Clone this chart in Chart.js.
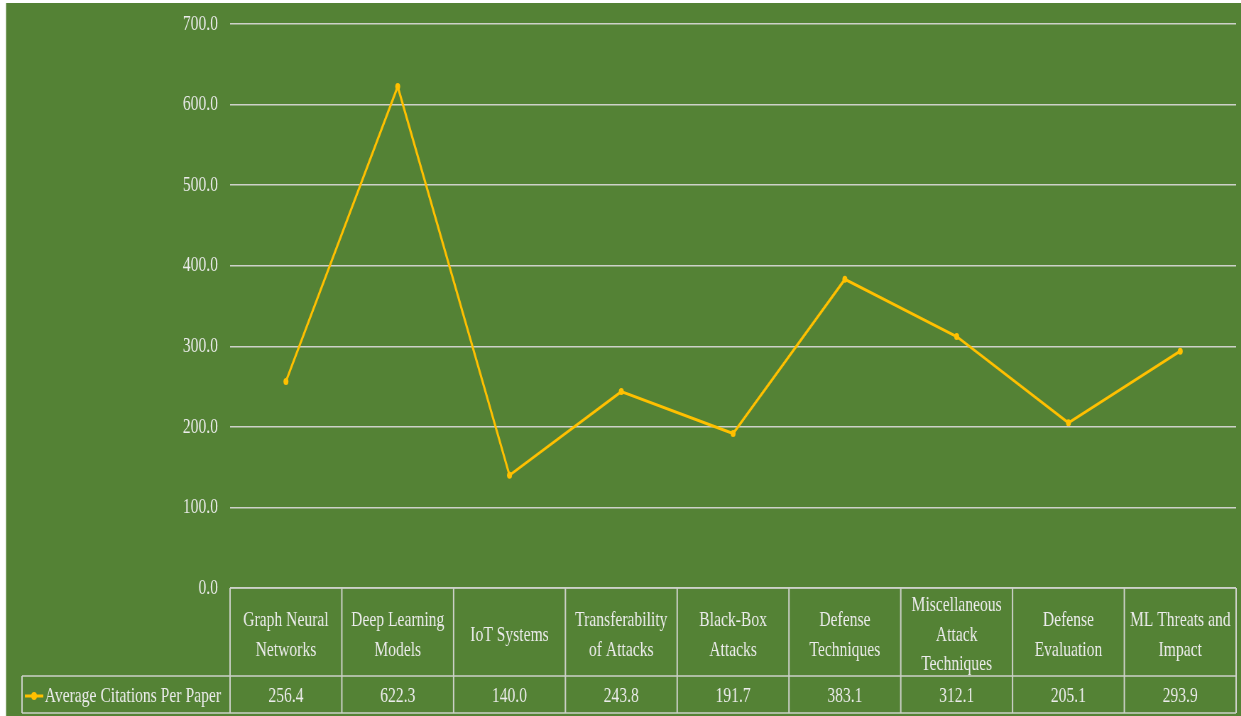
<!DOCTYPE html>
<html>
<head>
<meta charset="utf-8">
<script src="https://cdn.jsdelivr.net/npm/chart.js@4.4.1/dist/chart.umd.min.js"></script>
<style>
  html, body { margin: 0; padding: 0; background: #ffffff; overflow: hidden; }
  /* the original text is horizontally squeezed, so the whole chart is drawn wide and scaled down */
  #wrap { width: 1748px; height: 716px; transform: scaleX(0.71); transform-origin: 0 0; }
  .probe { font-family: 'Liberation Serif'; position: absolute; left: -999px; }
</style>
</head>
<body>
<span class="probe">Aa</span>
<div id="wrap"><canvas id="chart" width="1748" height="716"></canvas></div>
<script>
const categories = [
  ['Graph Neural', 'Networks'],
  ['Deep Learning', 'Models'],
  ['IoT Systems'],
  ['Transferability', 'of Attacks'],
  ['Black-Box', 'Attacks'],
  ['Defense', 'Techniques'],
  ['Miscellaneous', 'Attack', 'Techniques'],
  ['Defense', 'Evaluation'],
  ['ML Threats and', 'Impact']
]
const seriesName = 'Average Citations Per Paper'
const citations = [256.4, 622.3, 140.0, 243.8, 191.7, 383.1, 312.1, 205.1, 293.9]
const yTicks = [0, 100, 200, 300, 400, 500, 600, 700]

const GREEN = '#548235'
const YELLOW = '#FFC000'
const GRID = '#cdd1c9'
const TEXT = '#ececec'
const FONT = "'Liberation Serif', 'Times New Roman', Times, serif"

function line (ctx, x1, y1, x2, y2) {
  ctx.beginPath()
  ctx.moveTo(x1, y1)
  ctx.lineTo(x2, y2)
  ctx.stroke()
}

const background = {
  id: 'background',
  beforeDraw (chart) {
    const { ctx, width, height } = chart
    ctx.save()
    ctx.fillStyle = GREEN
    ctx.fillRect(8.5, 3, width, height)
    ctx.restore()
  }
}

// data table under the plot, like the Excel one
const dataTable = {
  id: 'dataTable',
  afterDraw (chart) {
    const { ctx, chartArea, scales: { x } } = chart
    const n = categories.length
    const colW = (x.right - x.left) / n
    const top = chartArea.bottom
    const headBottom = top + 88
    const rowBottom = headBottom + 37
    const legendLeft = 31
    const rowMid = headBottom + 20

    ctx.save()
    ctx.strokeStyle = GRID
    ctx.lineWidth = 1.5
    line(ctx, x.left, top, x.right, top)
    line(ctx, legendLeft, headBottom, x.right, headBottom)
    line(ctx, legendLeft, rowBottom, x.right, rowBottom)
    ctx.lineWidth = 2
    for (let k = 0; k <= n; k++) {
      const px = x.left + k * colW
      line(ctx, px, top, px, rowBottom)
    }
    line(ctx, legendLeft, headBottom, legendLeft, rowBottom)

    ctx.fillStyle = TEXT
    ctx.font = '22px ' + FONT
    ctx.textAlign = 'center'
    ctx.textBaseline = 'middle'
    categories.forEach((lines, i) => {
      const cx = x.getPixelForValue(i)
      lines.forEach((t, j) => {
        ctx.fillText(t, cx, top + 47 + (j - (lines.length - 1) / 2) * 29.5)
      })
      ctx.fillText(citations[i].toFixed(1), cx, rowMid)
    })

    // legend key
    ctx.strokeStyle = YELLOW
    ctx.fillStyle = YELLOW
    ctx.lineWidth = 3
    line(ctx, 35, rowMid, 61, rowMid)
    ctx.beginPath()
    ctx.arc(48, rowMid, 4, 0, Math.PI * 2)
    ctx.fill()

    ctx.fillStyle = TEXT
    ctx.textAlign = 'left'
    ctx.fillText(seriesName, 63, rowMid)
    ctx.restore()
  }
}

function draw () {
  new Chart(document.getElementById('chart'), {
    type: 'line',
    data: {
      labels: categories,
      datasets: [{
        label: seriesName,
        data: citations,
        borderColor: YELLOW,
        backgroundColor: YELLOW,
        borderWidth: 3,
        pointRadius: 3.5,
        pointBorderWidth: 0,
        tension: 0
      }]
    },
    options: {
      responsive: false,
      animation: false,
      layout: { padding: { left: 0, right: 7, top: 24, bottom: 128 } },
      plugins: {
        legend: { display: false },
        tooltip: { enabled: false }
      },
      scales: {
        x: {
          type: 'category',
          offset: true,
          display: false
        },
        y: {
          min: 0,
          max: 700,
          afterBuildTicks: scale => { scale.ticks = yTicks.map(v => ({ value: v })) },
          afterFit: scale => {
            scale.width = 324
            scale.paddingTop = 0
            scale.paddingBottom = 0
          },
          border: { display: false },
          grid: { color: GRID, lineWidth: 1.5, drawTicks: false },
          ticks: {
            padding: 17,
            color: TEXT,
            font: { family: FONT, size: 22 },
            callback: v => Number(v).toFixed(1)
          }
        }
      }
    },
    plugins: [background, dataTable]
  })
}

if (document.fonts && document.fonts.load) {
  document.fonts.load("22px 'Liberation Serif'").then(draw, draw)
} else {
  draw()
}
</script>
</body>
</html>
